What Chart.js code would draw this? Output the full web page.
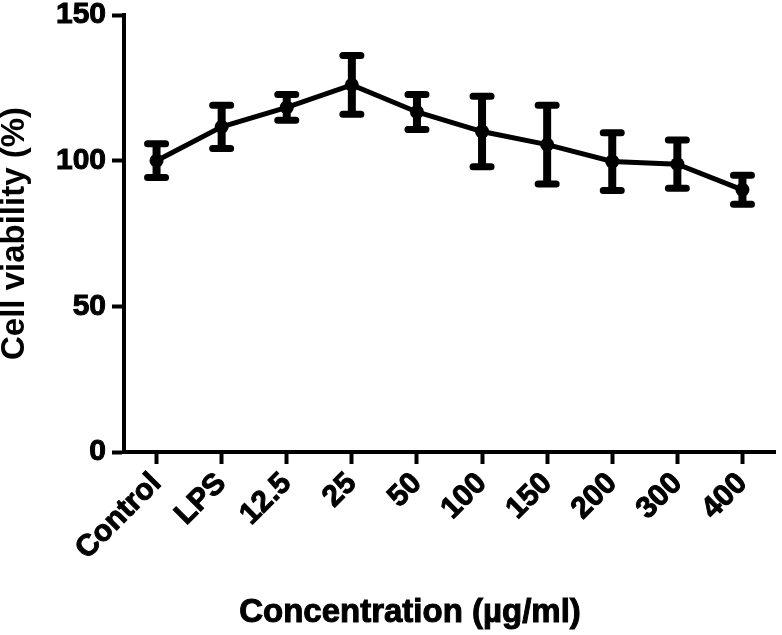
<!DOCTYPE html>
<html>
<head>
<meta charset="utf-8">
<title>Cell viability</title>
<script src="https://cdn.jsdelivr.net/npm/chart.js@4.4.1/dist/chart.umd.min.js"></script>
<style>
  html, body { margin: 0; padding: 0; background: #fff; }
  #wrap { position: relative; width: 782px; height: 635px; }
</style>
</head>
<body>
<div id="wrap"><canvas id="chart" width="782" height="635"></canvas></div>
<script>
// Cell viability vs concentration, mean ± SD.
const categories = ['Control', 'LPS', '12.5', '25', '50', '100', '150', '200', '300', '400'];
const viability  = [100, 111.6, 118.3, 126, 116.7, 110, 105.5, 99.7, 98.8, 90];
const sdValues   = [5.8, 7.4, 4.4, 10.1, 6, 12.1, 13.5, 9.9, 8.3, 5];
const yTicks     = [0, 50, 100, 150];
const yTitle = 'Cell viability (%)';
const xTitle = 'Concentration (\u00b5g/ml)';

const FONT = "'Liberation Sans', Arial, Helvetica, sans-serif";
const INK = '#000';

// Chart.js has no error bars; draw them from the data through the scales.
const errorBars = {
  id: 'errorBars',
  afterDatasetsDraw(chart) {
    const { ctx, scales: { x, y } } = chart;
    ctx.save();
    ctx.strokeStyle = INK;
    viability.forEach((v, i) => {
      const px = x.getPixelForValue(i);
      const top = y.getPixelForValue(v + sdValues[i]);
      const bot = y.getPixelForValue(v - sdValues[i]);
      ctx.lineCap = 'butt';
      ctx.lineWidth = 8;
      ctx.beginPath();
      ctx.moveTo(px, top);
      ctx.lineTo(px, bot);
      ctx.stroke();
      ctx.lineCap = 'round';
      ctx.lineWidth = 7;
      ctx.beginPath();
      ctx.moveTo(px - 9, top); ctx.lineTo(px + 9, top);
      ctx.moveTo(px - 9, bot); ctx.lineTo(px + 9, bot);
      ctx.stroke();
    });
    ctx.restore();
  }
};

// x title sits centred under the tick labels, not under the plot area
const bottomTitle = {
  id: 'bottomTitle',
  afterDraw(chart) {
    const ctx = chart.ctx;
    ctx.save();
    ctx.fillStyle = INK;
    ctx.strokeStyle = INK;
    ctx.lineWidth = 1;
    ctx.font = 'bold 33px ' + FONT;
    ctx.textAlign = 'center';
    ctx.textBaseline = 'alphabetic';
    ctx.fillText(xTitle, 410, 622);
    ctx.strokeText(xTitle, 410, 622);
    ctx.restore();
  }
};

new Chart(document.getElementById('chart'), {
  type: 'line',
  data: {
    labels: categories,
    datasets: [{
      data: viability,
      borderColor: INK,
      borderWidth: 5,
      backgroundColor: INK,
      pointBackgroundColor: INK,
      pointBorderColor: INK,
      pointRadius: 7,
      pointBorderWidth: 0,
      tension: 0,
      fill: false,
    }],
  },
  options: {
    responsive: false,
    animation: false,
    events: [],
    layout: { padding: { top: 15, right: 2, left: 0, bottom: 0 } },
    plugins: { legend: { display: false }, tooltip: { enabled: false } },
    scales: {
      x: {
        type: 'category',
        offset: true,
        afterFit: (s) => { s.height = 183; },
        border: { display: true, color: INK, width: 4 },
        grid: { offset: false, drawOnChartArea: false, drawTicks: true, tickLength: 12, tickWidth: 4, tickColor: INK },
        ticks: {
          color: INK,
          textStrokeColor: INK,
          textStrokeWidth: 1,
          font: { family: FONT, size: 30, weight: 'bold' },
          minRotation: 45, maxRotation: 45, autoSkip: false, padding: 2,
        },
      },
      y: {
        min: 0, max: 150,
        afterFit: (s) => { s.width = 124; s.paddingTop = 0; s.paddingBottom = 0; },
        afterBuildTicks: (s) => { s.ticks = yTicks.map(v => ({ value: v })); },
        border: { display: true, color: INK, width: 4 },
        grid: { drawOnChartArea: false, drawTicks: true, tickLength: 12, tickWidth: 4, tickColor: INK },
        ticks: {
          color: INK,
          textStrokeColor: INK,
          textStrokeWidth: 1,
          padding: 6,
          font: { family: FONT, size: 30, weight: 'bold', lineHeight: 1 },
        },
        title: {
          display: true, text: yTitle, color: INK, padding: 0,
          font: { family: FONT, size: 33, weight: 'bold', lineHeight: 0.9 },
        },
      },
    },
  },
  plugins: [errorBars, bottomTitle],
});
</script>
</body>
</html>
